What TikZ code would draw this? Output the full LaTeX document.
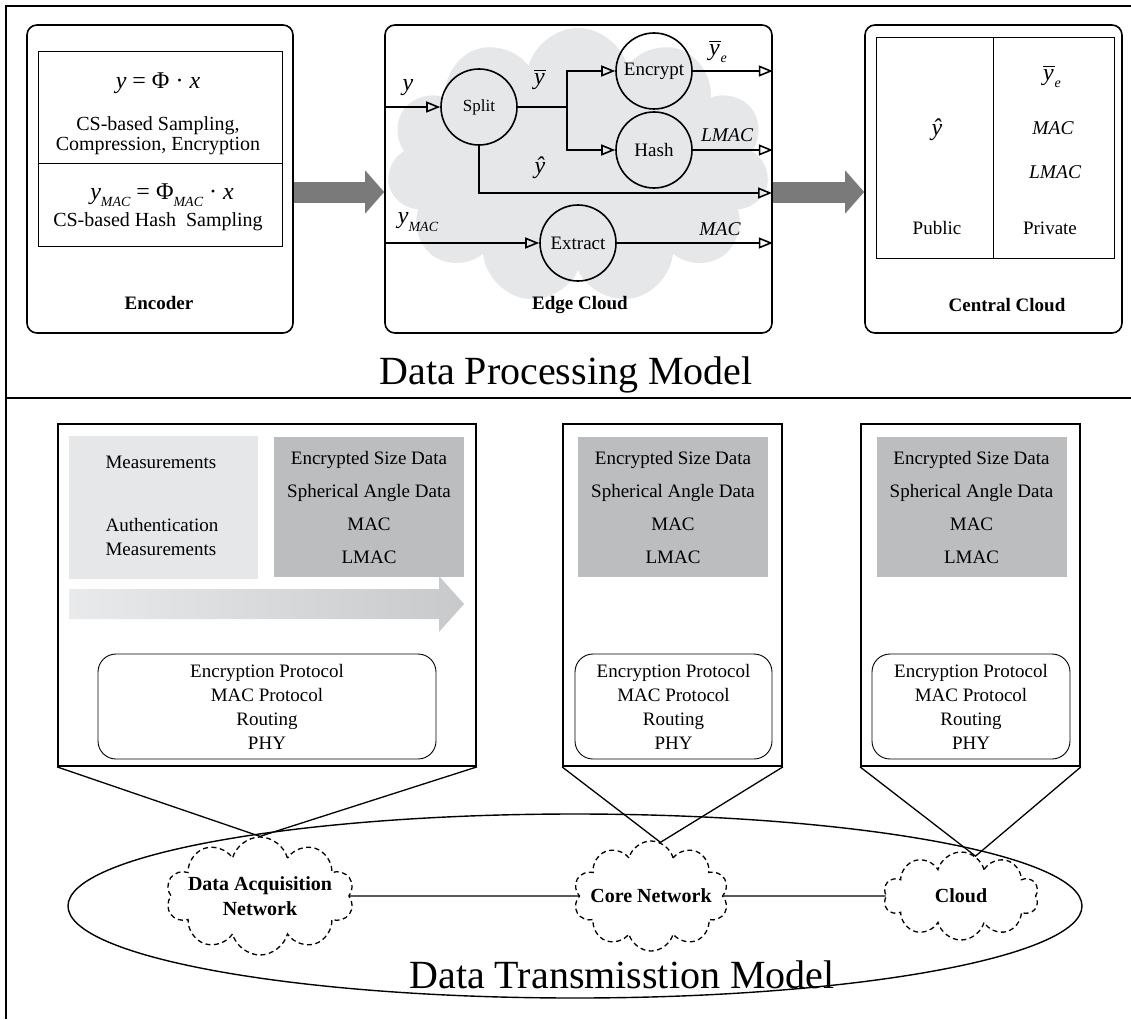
\documentclass[tikz,border=0pt]{standalone}
\usepackage{fontspec}
\setmainfont{Liberation Serif}
\usetikzlibrary{arrows.meta, shapes.symbols, positioning}

\definecolor{blobgray}{RGB}{230,231,232}
\definecolor{datagray}{RGB}{188,189,191}
\definecolor{arrowgray}{RGB}{122,122,122}
\definecolor{gradleft}{RGB}{233,234,235}
\definecolor{gradright}{RGB}{200,201,203}

% barred y and small lowered index
\newcommand{\ovy}{\vbox{\hrule height 0.9pt \kern 2.5pt \hbox{\itshape y\kern1pt}}}
\newcommand{\lowsub}[1]{\raisebox{-0.3em}{\fontsize{14}{14}\selectfont\itshape #1}}

\begin{document}
\begin{tikzpicture}[
        x = 1pt, y = -1pt,
        >= {Triangle[open, length = 14pt, width = 11pt]},
        every node/.style = {font = \fontsize{19}{24}\selectfont},
        procbox/.style = {draw, line width = 1.6pt, rounded corners = 10pt, minimum height = 308pt},
        op/.style = {circle, draw, line width = 1.6pt, minimum size = 76pt, inner sep = 0pt},
        flow/.style = {->, line width = 1.6pt},
        fatarrow/.style = {draw = arrowgray, line width = 21pt, -{Triangle[length = 19pt, width = 42pt]}},
        mathlabel/.style = {font = \fontsize{24}{28}\selectfont},
        maclabel/.style = {font = \fontsize{19.5}{24}\selectfont\itshape},
        boldlabel/.style = {font = \fontsize{19}{24}\selectfont\bfseries},
        enctext/.style = {align = center, font = \fontsize{20}{20}\selectfont},
        title/.style = {font = \fontsize{40}{44}\selectfont},
        netbox/.style = {draw, line width = 1.8pt, minimum height = 342pt},
        databox/.style = {fill = datagray, minimum width = 190pt, minimum height = 140pt, align = center, font = \fontsize{19}{33}\selectfont},
        protobox/.style = {draw, line width = 0.9pt, rounded corners = 18pt, minimum height = 105pt, align = center},
        netcloud/.style = {cloud, cloud puffs = 10, cloud ignores aspect, draw, line width = 1.3pt, dash pattern = on 5pt off 3.5pt},
        cloudlabel/.style = {align = center, font = \fontsize{20}{25}\selectfont\bfseries},
        link/.style = {line width = 1.3pt}
    ]
      \useasboundingbox (0, 0) rectangle (1131, 1019);

      % frame
      \draw[line width = 2.8pt] (6, 1019) -- (6, 6) -- (1131, 6);
      \draw[line width = 2.8pt] (6, 398) -- (1131, 398);

      % data processing model
      \node[cloud, cloud puffs = 11, cloud ignores aspect, fill = blobgray, minimum width = 382pt, minimum height = 276pt] (blob) at (578, 166) {};
      \node[procbox, minimum width = 266pt] (encoder) at (160, 179) {};
      \node[procbox, minimum width = 387pt] (edge) at (578.5, 179) {};
      \node[procbox, minimum width = 257pt] (central) at (993.5, 179) {};

      \draw[line width = 1pt] (38, 52) rectangle (282, 246) (38, 164) -- (282, 164);
      \node[mathlabel] (eqy) at (158, 83) {\textit{y} = Φ · \textit{x}};
      \node[enctext] (cssample) at (158, 136) {CS-based Sampling,\\Compression, Encryption};
      \node[mathlabel] (eqmac) at (162, 195) {\textit{y}\lowsub{MAC} = Φ\lowsub{MAC} · \textit{x}};
      \node[enctext] (cshash) at (158, 222) {CS-based Hash\ \ Sampling};
      \node[boldlabel] (enclabel) at (159, 303) {Encoder};

      \node[op] (split) at (479, 107) {\fontsize{17}{20}\selectfont Split};
      \node[op] (encrypt) at (654, 71) {Encrypt};
      \node[op] (hash) at (654, 150) {Hash};
      \node[op] (extract) at (578, 243) {Extract};
      \coordinate (fork) at (567, 107);
      \coordinate (pubout) at (772, 193);

      \draw[flow] (edge.west |- split) -- (split);
      \draw[line width = 1.6pt] (split) -- (fork);
      \draw[flow] (fork) |- (encrypt);
      \draw[flow] (fork) |- (hash);
      \draw[flow] (split) |- (pubout);
      \draw[flow] (encrypt) -- (edge.east |- encrypt);
      \draw[flow] (hash) -- (edge.east |- hash);
      \draw[flow] (edge.west |- extract) -- (extract);
      \draw[flow] (extract) -- (edge.east |- extract);

      \node[mathlabel] (ylab) at (408, 88) {\textit{y}};
      \node[mathlabel] (ybarlab) at (540, 80) {\ovy};
      \node[mathlabel] (yhatlab) at (540, 168) {\textit{ŷ}};
      \node[mathlabel] (yelab) at (718, 52) {\ovy\lowsub{e}};
      \node[maclabel] (lmaclab) at (727, 135) {LMAC};
      \node[mathlabel] (ymaclab) at (418, 222) {\textit{y}\lowsub{MAC}};
      \node[maclabel] (maclab) at (720, 229) {MAC};
      \node[boldlabel] (edgelabel) at (580, 305) {Edge Cloud};

      \draw[line width = 1pt] (876, 38) rectangle (1114, 258) (993, 38) -- (993, 258);
      \node[mathlabel] (pubyhat) at (937, 130) {\textit{ŷ}};
      \node (publab) at (937, 228) {Public};
      \node[mathlabel] (privye) at (1052, 77) {\ovy\lowsub{e}};
      \node[maclabel] (privmac) at (1053, 128) {MAC};
      \node[maclabel] (privlmac) at (1055, 172) {LMAC};
      \node (privlab) at (1050, 228) {Private};
      \node[boldlabel] (centrallabel) at (1007, 305) {Central Cloud};

      \draw[fatarrow] ([yshift = -13pt] encoder.east) -- ([yshift = -13pt] edge.west);
      \draw[fatarrow] ([yshift = -13pt] edge.east) -- ([yshift = -13pt] central.west);

      \node[title] (dpm) at (566, 375) {Data Processing Model};

      % data transmission model
      \node[netbox, minimum width = 418pt] (acqbox) at (267, 595) {};
      \node[netbox, minimum width = 219pt] (corebox) at (672.5, 595) {};
      \node[netbox, minimum width = 219pt] (cloudbox) at (970.5, 595) {};

      \node[fill = blobgray, minimum width = 189pt, minimum height = 143pt, inner sep = 0pt] (rawdata) at (163.5, 507.5) {};
      \node[anchor = west] (meas) at (102, 462) {Measurements};
      \node[anchor = west, align = left] (authmeas) at (102, 537) {Authentication\\Measurements};

      \foreach \nm/\cx in {acq/369, core/673, cloud/971.5}
        \node[databox] (\nm data) at (\cx, 507) {Encrypted Size Data\\Spherical Angle Data\\MAC\\LMAC};
      \foreach \nm/\cx/\w in {acq/267/338, core/673.5/197, cloud/971/198}
        \node[protobox, minimum width = \w pt] (\nm proto) at (\cx, 706.5) {Encryption Protocol\\MAC Protocol\\Routing\\PHY};

      \shade[left color = gradleft, right color = gradright] (69, 589) -- (439, 589) -- (439, 576) -- (464, 604) -- (439, 632) -- (439, 619) -- (69, 619) -- cycle;

      \draw[line width = 1.4pt] (575, 906) ellipse [x radius = 507pt, y radius = 92pt];

      \node[netcloud, minimum width = 188pt, minimum height = 118pt] (acqnet) at (260, 896) {};
      \node[cloudlabel] (acqtext) at (acqnet) {Data Acquisition\\Network};
      \node[netcloud, minimum width = 155pt, minimum height = 110pt] (corenet) at (651, 896) {};
      \node[cloudlabel] (coretext) at (corenet) {Core Network};
      \node[netcloud, minimum width = 155pt, minimum height = 88pt] (cloudnet) at (961, 896) {};
      \node[cloudlabel] (cloudtext) at (cloudnet) {Cloud};

      \draw[link] (acqnet) -- (corenet) -- (cloudnet);
      \draw[link] (acqbox.south west) -- (acqnet.north) -- (acqbox.south east);
      \draw[link] (corebox.south west) -- (corenet.80) -- (corebox.south east);
      \draw[link] (cloudbox.south west) -- (cloudnet.70) -- (cloudbox.south east);

      \node[title] (dtm) at (622, 975) {Data Transmisstion Model};
\end{tikzpicture}
\end{document}
